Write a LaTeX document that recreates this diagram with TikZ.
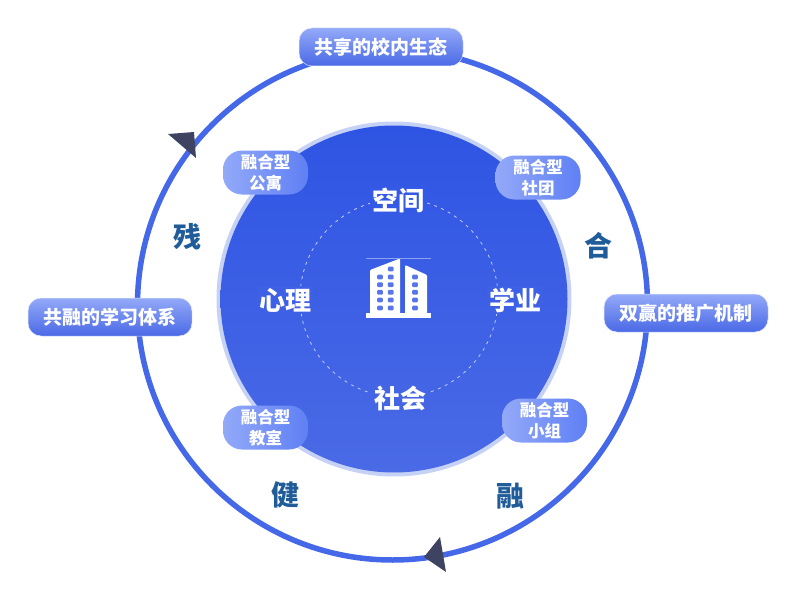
\documentclass[tikz,border=0pt]{standalone}
\usepackage{fontspec}
\setmainfont{Noto Sans CJK SC}
\usetikzlibrary{shadings}
\definecolor{ringblue}{HTML}{4468E8}
\definecolor{halo}{HTML}{C6D1F6}
\definecolor{disktop}{HTML}{2E54E3}
\definecolor{diskbot}{HTML}{4A6AE6}
\definecolor{tipdark}{HTML}{3E4362}
\definecolor{wordblue}{HTML}{1F5C99}
\definecolor{pilllight}{HTML}{93A9F8}
\definecolor{pillmid}{HTML}{5F80F5}
\definecolor{pilldeep}{HTML}{4A69E6}
\tikzset{
  widepill/.style={rounded corners=13pt,minimum width=164pt,minimum height=38pt,inner sep=0pt,
    top color=pilllight,bottom color=pilldeep,draw=white!70!pilllight,line width=0.5pt,
    text=white,font=\fontsize{19}{21}\selectfont\bfseries},
  smallpill/.style={rounded corners=19pt,minimum width=85pt,minimum height=44pt,inner sep=0pt,
    left color=pilllight,right color=pillmid,
    text=white,align=center,font=\fontsize{16.5}{21}\selectfont\bfseries},
  innerword/.style={text=white,inner sep=2pt,font=\fontsize{26}{28}\selectfont\bfseries},
  outerword/.style={text=wordblue,inner sep=0pt,font=\fontsize{28}{30}\selectfont\bfseries},
}
\begin{document}
\begin{tikzpicture}[x=1pt,y=-1pt]
        \useasboundingbox (0,0) rectangle (796,610);

        % Outer ring and the two tips
        \draw[ringblue,line width=5.5pt] (392.5,305) circle (255);
        \fill[tipdark] (168,134) -- (194,132) -- (196,158) -- cycle;
        \fill[tipdark] (424,557) -- (440,537) -- (446,572) -- cycle;

        % Disk with the dashed circle
        \fill[halo] (394,299) circle (177.5);
        \shade[top color=disktop,bottom color=diskbot] (394,299) circle (173.5);
        \draw[white!70!disktop,dash pattern=on 3pt off 4.5pt,line width=0.8pt] (399,298) circle (99);

        % Building
        \draw[white!45!disktop,line width=0.4pt] (366,258.5) -- (431,258.5);
        \fill[white] (366,313) rectangle (431,318);
        \fill[white,rounded corners=1pt] (370,314) -- (370,270) -- (400,258.5) -- (400,314) -- cycle;
        \fill[white,rounded corners=1pt] (405,314) -- (405,265) -- (427,275) -- (427,314) -- cycle;
        \foreach \wx in {380,390.7,415}
          \foreach \wy in {277,284.7,292.3,300,308}
            \fill[disktop!80!white,rounded corners=1pt] (\wx-2.8,\wy-2.4) rectangle (\wx+2.8,\wy+2.4);
        \fill[disktop!80!white,rounded corners=1pt] (387.9,266.6) rectangle (393.5,271.4);

        % Words on the disk
        \node[innerword,fill=disktop!78!diskbot] (kongjian) at (398,200) {空间};
        \node[innerword,fill=disktop!45!diskbot] (xinli) at (285,300) {心理};
        \node[innerword,fill=disktop!45!diskbot] (xueye) at (515,300) {学业};
        \node[innerword,fill=disktop!20!diskbot] (shehui) at (400,399) {社会};

        % Words beside the ring
        \node[outerword] (can) at (187,237) {残};
        \node[outerword] (he) at (598,246) {合};
        \node[outerword] (jian) at (285,495) {健};
        \node[outerword] (rong) at (510,496) {融};

        % Pills
        \node[widepill] (shengtai) at (381,47) {共享的校内生态};
        \node[widepill] (tuiguang) at (686,313) {双赢的推广机制};
        \node[widepill] (xuexi) at (110,317) {共融的学习体系};
        \foreach \name/\px/\py/\second in {
          gongyu/265.5/172.5/公寓, shetuan/538/177.5/社团,
          jiaoshi/265.5/427.5/教室, xiaozu/544.5/420.5/小组}
          \node[smallpill] (\name) at (\px,\py) {融合型\\\second};
\end{tikzpicture}
\end{document}
